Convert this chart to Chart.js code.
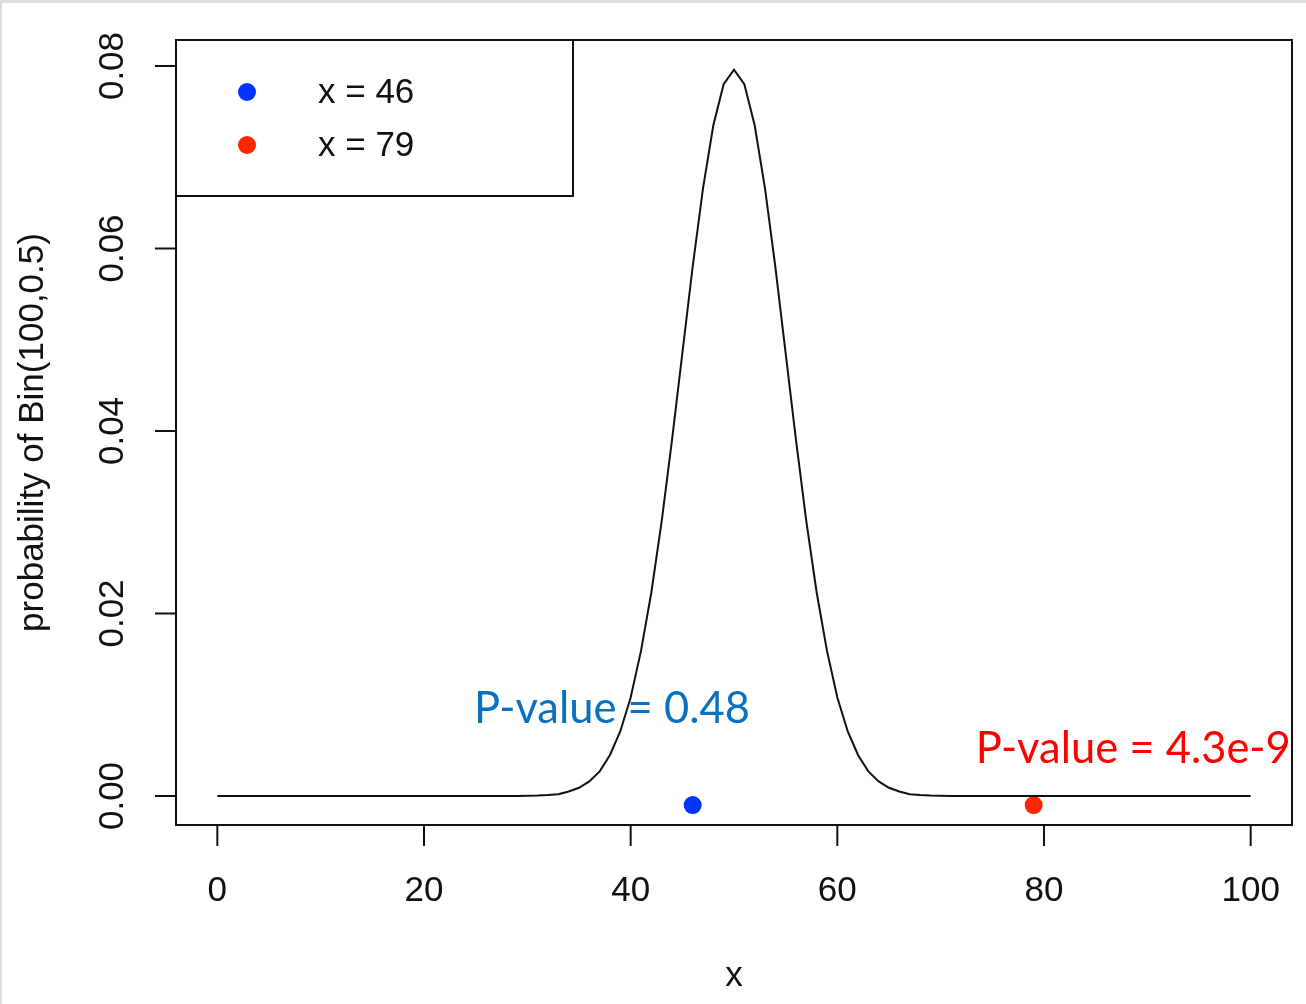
<!DOCTYPE html>
<html>
<head>
<meta charset="utf-8">
<script src="https://cdn.jsdelivr.net/npm/chart.js@4"></script>
<style>
  html, body { margin: 0; padding: 0; background: #dcdcdc; width: 1306px; height: 1004px; overflow: hidden; }
  #wrap { position: absolute; left: 2px; top: 3px; width: 1304px; height: 1001px; background: #fff; }
</style>
</head>
<body>
<div id="wrap"><canvas id="binomChart" width="1304" height="1001"></canvas></div>
<script>
// values, k = 0..100
const probValues = [
  0, 0, 0, 0, 0, 0, 0, 0, 0, 0,
  0, 0, 0, 0, 0, 0, 0, 0, 0, 0,
  0, 0, 0, 0, 0, 0, 0, 0, 0, 0.00001,
  0.00002, 0.00004, 0.0001, 0.0002, 0.0005, 0.0009, 0.0016, 0.0027, 0.0045, 0.0071,
  0.0108, 0.0159, 0.0223, 0.0301, 0.0390, 0.0485, 0.0580, 0.0666, 0.0735, 0.0780,
  0.0796,
  0.0780, 0.0735, 0.0666, 0.0580, 0.0485, 0.0390, 0.0301, 0.0223, 0.0159, 0.0108,
  0.0071, 0.0045, 0.0027, 0.0016, 0.0009, 0.0005, 0.0002, 0.0001, 0.00004, 0.00002,
  0.00001, 0, 0, 0, 0, 0, 0, 0, 0, 0,
  0, 0, 0, 0, 0, 0, 0, 0, 0, 0,
  0, 0, 0, 0, 0, 0, 0, 0, 0, 0
];
const kValues = probValues.map((_, i) => i);

const obsLabels = ['x = 46', 'x = 79'];
const obsX = [46, 79];
const obsY = [-0.001, -0.001];
const obsColors = ['#0433ff', '#ff2600'];

const pLabels = ['P-value = 0.48', 'P-value = 4.3e-9'];
const pColors = ['#0a70c0', '#ff0000'];
const pAnchorX = [24.85, 73.4];
const pAnchorY = [0.0080, 0.0036];

const xTicks = [0, 20, 40, 60, 80, 100];
const yTicks = [0, 0.02, 0.04, 0.06, 0.08];
const yTickLabels = ['0.00', '0.02', '0.04', '0.06', '0.08'];

const AXIS_FONT = '35px "Liberation Sans", Arial, sans-serif';

const rBasePlot = {
  id: 'rBasePlot',
  afterDatasetsDraw(chart) {
    const { ctx, chartArea: a, scales: { x, y } } = chart;
    ctx.save();

    // plot box
    ctx.strokeStyle = '#111';
    ctx.lineWidth = 2;
    ctx.strokeRect(a.left, a.top, a.right - a.left, a.bottom - a.top);

    // x axis ticks + labels
    ctx.fillStyle = '#111';
    ctx.font = AXIS_FONT;
    ctx.textAlign = 'center';
    ctx.textBaseline = 'middle';
    xTicks.forEach(v => {
      const px = x.getPixelForValue(v);
      ctx.beginPath();
      ctx.moveTo(px, a.bottom);
      ctx.lineTo(px, a.bottom + 21);
      ctx.stroke();
      ctx.fillText(String(v), px, a.bottom + 66);
    });

    // y axis ticks + rotated labels
    yTicks.forEach((v, i) => {
      const py = y.getPixelForValue(v);
      ctx.beginPath();
      ctx.moveTo(a.left, py);
      ctx.lineTo(a.left - 21, py);
      ctx.stroke();
      ctx.save();
      ctx.translate(a.left - 63, py);
      ctx.rotate(-Math.PI / 2);
      ctx.fillText(yTickLabels[i], 0, 0);
      ctx.restore();
    });

    // axis titles
    ctx.fillText('x', (a.left + a.right) / 2, a.bottom + 151);
    ctx.save();
    ctx.translate(a.left - 143, (a.top + a.bottom) / 2);
    ctx.rotate(-Math.PI / 2);
    ctx.fillText('probability of Bin(100,0.5)', 0, 0);
    ctx.restore();

    // legend
    const lw = 397, lh = 156;
    ctx.strokeRect(a.left, a.top, lw, lh);
    ctx.textAlign = 'left';
    obsLabels.forEach((lab, i) => {
      const cy = a.top + 52 + i * 53;
      ctx.fillStyle = obsColors[i];
      ctx.beginPath();
      ctx.arc(a.left + 71, cy, 9, 0, Math.PI * 2);
      ctx.fill();
      ctx.fillStyle = '#111';
      ctx.fillText(lab, a.left + 142, cy + 1);
    });

    // p-value annotations
    ctx.font = '43.5px Lato, "Open Sans", sans-serif';
    ctx.textBaseline = 'alphabetic';
    pLabels.forEach((lab, i) => {
      ctx.fillStyle = pColors[i];
      ctx.fillText(lab, x.getPixelForValue(pAnchorX[i]), y.getPixelForValue(pAnchorY[i]));
    });

    ctx.restore();
  }
};

new Chart(document.getElementById('binomChart'), {
  type: 'line',
  data: {
    datasets: [
      {
        data: kValues.map((k, i) => ({ x: k, y: probValues[i] })),
        borderColor: '#111',
        borderWidth: 2,
        pointRadius: 0,
        fill: false,
        tension: 0
      },
      {
        type: 'scatter',
        data: obsX.map((k, i) => ({ x: k, y: obsY[i] })),
        pointRadius: 9,
        pointBorderWidth: 0,
        pointBackgroundColor: obsColors,
        backgroundColor: obsColors
      }
    ]
  },
  options: {
    responsive: false,
    animation: false,
    devicePixelRatio: 1,
    layout: { padding: { left: 174, top: 37, right: 14, bottom: 179 } },
    plugins: { legend: { display: false }, tooltip: { enabled: false } },
    scales: {
      x: { type: 'linear', min: -4, max: 104, display: false },
      y: { type: 'linear', min: -0.00318, max: 0.08285, display: false }
    }
  },
  plugins: [rBasePlot]
});
</script>
</body>
</html>
